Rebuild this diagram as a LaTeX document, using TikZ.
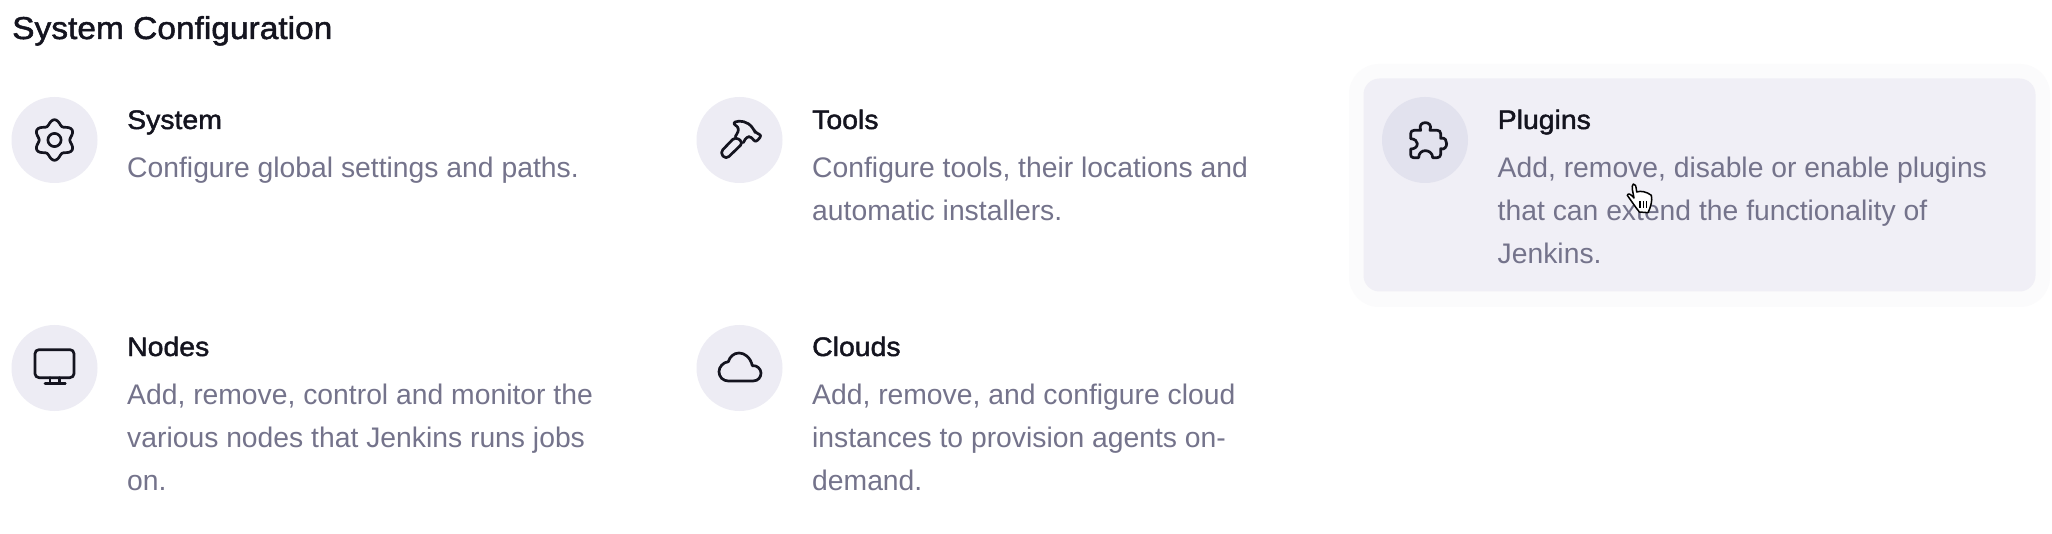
\documentclass[tikz,border=0pt]{standalone}
\usepackage{fontspec}
\setmainfont{Liberation Sans}
\newfontfamily\medfont[FakeBold=1.6,FakeStretch=1.06]{Liberation Sans}
\definecolor{ink}{HTML}{14141F}
\definecolor{muted}{HTML}{74738B}
\definecolor{disc}{HTML}{EDECF4}
\definecolor{discHover}{HTML}{E2E2EE}
\definecolor{cardfill}{HTML}{F0EFF6}
\definecolor{halo}{HTML}{FBFBFC}
\tikzset{
  iconline/.style={draw=ink,line width=2.7pt,line join=round,line cap=round,fill=none},
  icondisc/.style={circle,minimum size=86pt,inner sep=0pt,fill=disc},
  heading/.style={anchor=base west,inner sep=0pt,text=ink,font=\medfont\fontsize{31.6}{36}\selectfont},
  itemtitle/.style={anchor=base west,inner sep=0pt,text=ink,font=\medfont\fontsize{26.8}{30}\selectfont},
  itemdesc/.style={anchor=north west,inner sep=0pt,text=muted,align=left,font=\fontsize{28.3}{43}\selectfont},
}
\begin{document}
\begin{tikzpicture}[x=1pt,y=-1pt]
\useasboundingbox (0,0) rectangle (2052,534);
\fill[white] (0,0) rectangle (2052,534);
% hover card
\fill[halo,rounded corners=30pt] (1349,64) rectangle (2050,307);
\fill[cardfill,rounded corners=16pt] (1363.5,78.5) rectangle (2035.5,291.5);
% heading
\node[heading] (head) at (12,39) {System Configuration};
% discs
\node[icondisc] (d1) at (54.5,140) {};
\node[icondisc] (d2) at (739.5,140) {};
\node[icondisc,fill=discHover] (d3) at (1425,140) {};
\node[icondisc] (d4) at (54.5,368) {};
\node[icondisc] (d5) at (739.5,368) {};
% titles
\node[itemtitle] (t1) at (127,129) {System};
\node[itemtitle] (t2) at (812,129) {Tools};
\node[itemtitle] (t3) at (1497.5,129) {Plugins};
\node[itemtitle] (t4) at (127,356) {Nodes};
\node[itemtitle] (t5) at (812,356) {Clouds};
% descriptions
\node[itemdesc] (p1) at (127,157) {Configure global settings and paths.};
\node[itemdesc] (p2) at (812,157) {Configure tools, their locations and\\automatic installers.};
\node[itemdesc] (p3) at (1497.5,157) {Add, remove, disable or enable plugins\\that can extend the functionality of\\Jenkins.};
\node[itemdesc] (p4) at (127,384) {Add, remove, control and monitor the\\various nodes that Jenkins runs jobs\\on.};
\node[itemdesc] (p5) at (812,384) {Add, remove, and configure cloud\\instances to provision agents on-\\demand.};
% gear
\draw[iconline] plot[smooth cycle,samples=72,domain=0:355,variable=\a]
  ({54.5+(17.8+2.5*cos(6*(\a-90)))*cos(\a)},{140+(17.8+2.5*cos(6*(\a-90)))*sin(\a)});
\draw[iconline] (d1.center) circle[radius=6.6pt];
% hammer
\begin{scope}[shift={(680,80)},x=0.3333pt,y=-0.3333pt]
  \draw[iconline,rounded corners=4pt] (120,218) -- (166,170) -- (190,188) -- (138,238) -- cycle;
  \draw[iconline,rounded corners=3pt] (166,170) -- (178,148) .. controls (172,140) and (164,134) .. (157,130)
     .. controls (178,120) and (204,124) .. (222,150) -- (226,158) -- (246,166) -- (226,188) -- (214,170) -- (200,170) -- (190,188);
\end{scope}
% puzzle
\begin{scope}[shift={(1370,85)},x=0.3333pt,y=-0.3333pt]
  \draw[iconline] (152,136) .. controls (146,120) and (156,113) .. (166,113)
    .. controls (176,113) and (186,120) .. (180,136) -- (202,136)
    .. controls (208,136) and (212,140) .. (212,146) -- (212,160)
    .. controls (226,156) and (230,168) .. (230,176) .. controls (230,184) and (224,196) .. (212,191)
    -- (212,208) .. controls (212,214) and (208,218) .. (202,218) -- (188,218)
    .. controls (188,204) and (176,197) .. (166,197) .. controls (156,197) and (146,204) .. (146,218)
    -- (130,218) .. controls (125,218) and (122,214) .. (122,209) -- (122,192)
    .. controls (134,192) and (142,186) .. (142,176) .. controls (142,168) and (134,162) .. (122,161)
    -- (122,146) .. controls (122,140) and (126,136) .. (132,136) -- cycle;
\end{scope}
% monitor
\begin{scope}[shift={(0,315)},x=0.3333pt,y=-0.3333pt]
  \draw[iconline,rounded corners=4pt] (105,104) rectangle (222,188);
  \draw[iconline] (150,188) -- (150,205) (178,188) -- (178,205) (135,206) -- (196,206);
\end{scope}
% cloud
\begin{scope}[shift={(685,315)},x=0.3333pt,y=-0.3333pt]
  \draw[iconline] (130,198) -- (204,198) .. controls (220,198) and (228,186) .. (228,174)
    .. controls (228,162) and (216,150) .. (202,152) .. controls (196,126) and (178,114) .. (162,114)
    .. controls (146,114) and (134,126) .. (130,140) .. controls (114,142) and (102,156) .. (102,170)
    .. controls (102,186) and (114,198) .. (130,198) -- cycle;
\end{scope}
% pointer
\begin{scope}[shift={(1610,170)},x=0.3333pt,y=-0.3333pt]
  \draw[draw=black,line width=1.5pt,fill=white,line join=round]
    (70,42) .. controls (76,42) and (78,46) .. (80,66) .. controls (92,62) and (108,64) .. (124,76)
    .. controls (128,90) and (122,112) .. (114,128) -- (88,126)
    .. controls (78,114) and (62,90) .. (52,76) .. controls (54,68) and (62,72) .. (72,84)
    .. controls (70,70) and (62,48) .. (70,42) -- cycle;
  \draw[black,line width=1.5pt] (90,94) -- (90,114) (100,94) -- (100,114) (110,94) -- (110,114);
\end{scope}
\end{tikzpicture}
\end{document}
